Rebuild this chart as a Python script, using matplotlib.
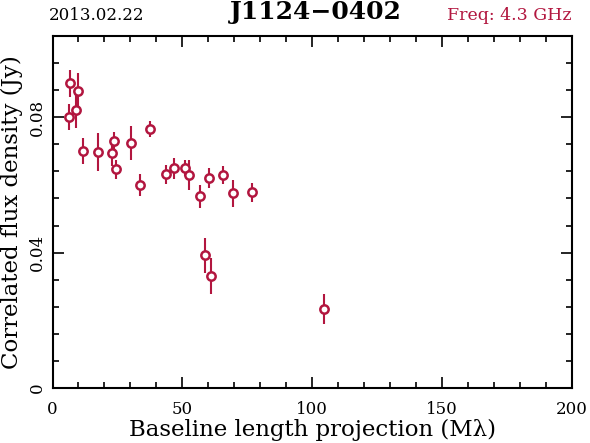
import numpy as np
import matplotlib
matplotlib.use("Agg")
import matplotlib.pyplot as plt
from matplotlib.ticker import MultipleLocator

# baseline length projection (M lambda), correlated flux (Jy), error (Jy)
baseline = [6.7, 10.0, 9.0, 6.5, 11.7, 17.4, 23.5, 23.0, 24.4, 30.3, 33.8, 37.6,
            43.9, 46.7, 50.9, 52.5, 56.7, 60.2, 65.7, 69.6, 76.9, 58.6, 61.1, 104.4]
flux = [0.0900, 0.0878, 0.0821, 0.0801, 0.0700, 0.0697, 0.0730, 0.0694, 0.0646,
        0.0725, 0.0599, 0.0765, 0.0632, 0.0649, 0.0651, 0.0629, 0.0566, 0.0620,
        0.0629, 0.0575, 0.0578, 0.0392, 0.0331, 0.0234]
flux_err = [0.0039, 0.0054, 0.0054, 0.0038, 0.0038, 0.0056, 0.0027, 0.0038, 0.0028,
            0.0050, 0.0033, 0.0023, 0.0028, 0.0030, 0.0024, 0.0044, 0.0034, 0.0030,
            0.0027, 0.0041, 0.0027, 0.0052, 0.0054, 0.0044]

source = "J1124\u22120402"
obs_date = "2013.02.22"
freq_text = "Freq: 4.3 GHz"

red = "#b2163f"
serif = ["DejaVu Serif"]

fig = plt.figure(figsize=(5.9, 4.43), dpi=100)
ax = fig.add_axes([0.089, 0.124, 0.880, 0.794])

ax.errorbar(baseline, flux, yerr=flux_err, fmt="o", color=red, ecolor=red,
            elinewidth=1.5, capsize=0, markersize=6, markerfacecolor="white",
            markeredgewidth=1.8, markeredgecolor=red)

ax.set_xlim(0, 200)
ax.set_ylim(0, 0.1039)
ax.xaxis.set_major_locator(MultipleLocator(50))
ax.xaxis.set_minor_locator(MultipleLocator(10))
ax.yaxis.set_major_locator(MultipleLocator(0.04))
ax.yaxis.set_minor_locator(MultipleLocator(0.008))
ax.tick_params(which="both", direction="in", top=True, right=True, width=1.2,
               colors="black")
ax.tick_params(which="major", length=8)
ax.tick_params(which="minor", length=4)
for s in ax.spines.values():
    s.set_linewidth(1.5)

ax.set_xticks([0, 50, 100, 150, 200])
ax.set_xticklabels(["0", "50", "100", "150", "200"], fontfamily=serif, fontsize=12)
ax.set_yticks([0, 0.04, 0.08])
ax.set_yticklabels(["0", "0.04", "0.08"], fontfamily=serif, fontsize=12,
                   rotation=90, va="center")
ax.tick_params(axis="x", pad=9)
ax.tick_params(axis="y", pad=5)

ax.set_xlabel("Baseline length projection (M\u03bb)", fontfamily=serif,
              fontsize=16.5, labelpad=1)
ax.set_ylabel("Correlated flux density (Jy)", fontfamily=serif, fontsize=16.5,
              labelpad=4)

fig.text(0.163, 0.966, obs_date, fontfamily=serif, fontsize=12,
         ha="center", va="center")
fig.text(0.535, 0.972, source, fontfamily=serif, fontsize=18,
         fontweight="bold", ha="center", va="center")
fig.text(0.969, 0.966, freq_text, fontfamily=serif, fontsize=12.5, color=red,
         ha="right", va="center")

fig.savefig("out.png", dpi=100)
